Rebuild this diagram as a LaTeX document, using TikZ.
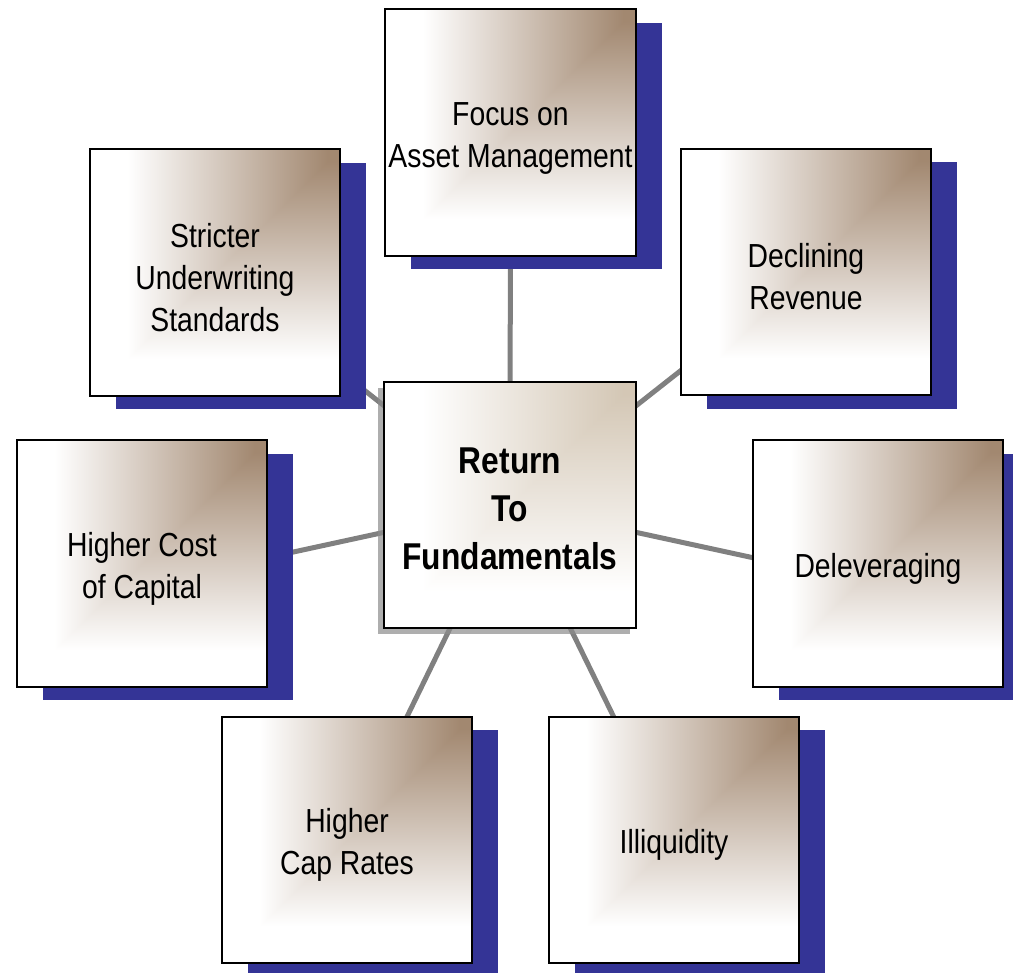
\documentclass[tikz,border=0pt]{standalone}
\usepackage{fontspec}
\setmainfont{Liberation Sans}[FakeStretch=0.85]
\usetikzlibrary{shadows,backgrounds}

\definecolor{shadowblue}{RGB}{52,52,150}
\definecolor{linkgray}{RGB}{128,128,128}

% room above the first line, so the text sits a little lower
\newcommand{\toprow}[1][25.5pt]{\rule{0pt}{#1}}

% brown in the upper right corner, fading to white
\pgfdeclarefunctionalshading{cornerbrown}{\pgfpoint{-50bp}{-50bp}}{\pgfpoint{50bp}{50bp}}{}{
    25 exch sub 50 div exch 25 exch sub 50 div
    2 copy gt {pop} {exch pop} ifelse
    0.05 sub 0.8 div dup 1 gt {pop 1} if dup 0 lt {pop 0} if
    dup dup
    0.56 mul 0.44 add 3 1 roll
    0.467 mul 0.533 add 3 1 roll
    0.365 mul 0.635 add 3 1 roll
}
% same, lighter tan for the middle box
\pgfdeclarefunctionalshading{cornertan}{\pgfpoint{-50bp}{-50bp}}{\pgfpoint{50bp}{50bp}}{}{
    25 exch sub 50 div exch 25 exch sub 50 div
    2 copy gt {pop} {exch pop} ifelse
    0.05 sub 0.8 div dup 1 gt {pop 1} if dup 0 lt {pop 0} if
    dup dup
    0.29 mul 0.71 add 3 1 roll
    0.22 mul 0.78 add 3 1 roll
    0.17 mul 0.83 add 3 1 roll
}

\begin{document}
\begin{tikzpicture}[x=0.75pt, y=0.75pt,
    factor/.style={draw, line width=1.5pt, shade, shading=cornerbrown,
        minimum width=188pt, minimum height=185pt, inner sep=0pt, align=center,
        font=\fontsize{25}{31.5}\selectfont,
        drop shadow={shadow xshift=19.5pt, shadow yshift=-10pt, fill=shadowblue, opacity=1}},
    core/.style={draw, line width=1.5pt, shade, shading=cornertan,
        minimum width=189pt, minimum height=185pt, inner sep=0pt, align=center,
        font=\bfseries\fontsize{28}{36}\selectfont,
        drop shadow={shadow xshift=-4.5pt, shadow yshift=-4.5pt, fill=black!45, opacity=.7}},
    link/.style={draw=linkgray, line width=3.75pt}]
    \useasboundingbox (0,0) rectangle (1013,-972);

    \node [core] (ctr) at (510,-505) {\toprow[24.5pt]Return\\To\\Fundamentals};

    \node [factor] (focus) at (510.5,-132.5) {\toprow Focus on\\Asset Management};
    \node [factor] (strict) at (215,-272.5) {\toprow Stricter\\Underwriting\\Standards};
    \node [factor] (decline) at (806,-272) {\toprow Declining\\Revenue};
    \node [factor] (cost) at (142,-563.5) {\toprow Higher Cost\\of Capital};
    \node [factor] (delever) at (878,-563.5) {\toprow Deleveraging};
    \node [factor] (caprate) at (347,-840) {\toprow Higher\\Cap Rates};
    \node [factor] (illiq) at (674,-840) {\toprow Illiquidity};

    \begin{pgfonlayer}{background}
        \draw [link] (ctr.center) -- (focus.center);
        \draw [link] (ctr.center) -- (strict.center);
        \draw [link] (ctr.center) -- (decline.center);
        \draw [link] (ctr.center) -- ([yshift=-16pt]cost.center);
        \draw [link] (ctr.center) -- ([yshift=-16pt]delever.center);
        \draw [link] (ctr.center) -- (caprate.center);
        \draw [link] (ctr.center) -- (illiq.center);
    \end{pgfonlayer}
\end{tikzpicture}
\end{document}
